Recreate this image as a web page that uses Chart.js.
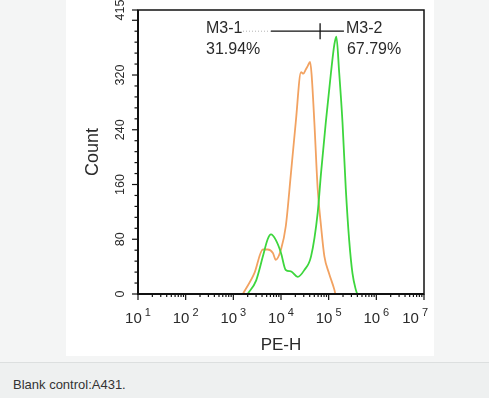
<!DOCTYPE html>
<html>
<head>
<meta charset="utf-8">
<script src="https://cdn.jsdelivr.net/npm/chart.js@4.4.1/dist/chart.umd.min.js"></script>
<style>
  html, body { margin: 0; padding: 0; }
  body {
    width: 489px; height: 398px; background: #f4f5f5;
    position: relative; overflow: hidden;
    font-family: "Liberation Sans", Arial, sans-serif;
  }
  #panel { position: absolute; left: 66px; top: 0; width: 368px; height: 356px; background: #fff; }
  #caption {
    position: absolute; left: 0; top: 362px; width: 489px; height: 36px;
    background: #eef0f0; border-top: 1px solid #dcdfdf;
  }
  #caption span { position: absolute; left: 13px; top: 14px; font-size: 13px; line-height: 15px; color: #333; }
</style>
</head>
<body>
<div id="panel"><canvas id="myChart"></canvas></div>
<div id="caption"><span>Blank control:A431.</span></div>
<script>
// PE-H values and counts
const greenX = [2000, 3020, 4170, 5250, 6170, 7760, 10000, 12600, 16200, 22400, 30900, 42700,
  58900, 69200, 87100, 112000, 132000, 145000, 166000, 195000, 229000, 269000, 316000, 372000, 398000];
const greenCount = [0, 20, 55, 80, 87, 79, 60, 35, 33, 25, 35, 55,
  119, 177, 251, 324, 365, 376, 324, 251, 153, 79, 30, 6, 0];

const orangeX = [1585, 2750, 4170, 5250, 6760, 7760, 10000, 12600, 16200, 20400, 26300, 29500,
  33100, 36300, 40700, 43700, 50100, 58900, 69200, 81300, 102000, 132000, 138000];
const orangeCount = [0, 30, 65, 65, 60, 50, 65, 99, 177, 251, 324, 322,
  328, 333, 339, 322, 251, 153, 99, 55, 30, 6, 0];

const yTickValues = [0, 80, 160, 240, 320, 415];
const xDecades = [1, 2, 3, 4, 5, 6, 7];

// marker M3: start, split, end
const gateNames = ["M3-1", "M3-2"];
const gatePercents = ["31.94%", "67.79%"];
const gateEdges = [6170, 66100, 209000];
const gateLevel = 384;

const ctx = document.getElementById("myChart");
const FONT = '"Liberation Sans", Arial, sans-serif';

function seg(c, x1, y1, x2, y2) {
  c.beginPath();
  c.moveTo(x1, y1);
  c.lineTo(x2, y2);
  c.stroke();
}

const axesPlugin = {
  id: "axesPlugin",
  afterDraw(chart) {
    const c = chart.ctx;
    const a = chart.chartArea;
    const { x, y } = chart.scales;
    c.save();
    c.strokeStyle = "#111";
    c.lineWidth = 1.5;
    c.strokeRect(a.left, a.top, a.right - a.left, a.bottom - a.top);
    c.lineWidth = 2;
    seg(c, a.left, a.top, a.left, a.bottom + 1);
    seg(c, a.left - 1, a.bottom, a.right, a.bottom);

    // tick marks
    c.lineWidth = 1.2;
    x.ticks.forEach((t) => {
      const px = x.getPixelForValue(t.value);
      seg(c, px, a.bottom, px, a.bottom + (t.major ? 6 : 3));
    });
    y.ticks.forEach((t) => {
      const py = y.getPixelForValue(t.value);
      seg(c, a.left, py, a.left - (t.major ? 6 : 3.5), py);
    });

    // x labels: 10 with exponent
    c.fillStyle = "#2a2a2a";
    c.textBaseline = "alphabetic";
    c.textAlign = "left";
    xDecades.forEach((d) => {
      const px = x.getPixelForValue(Math.pow(10, d));
      c.font = "15px " + FONT;
      const wb = c.measureText("10").width;
      c.font = "11px " + FONT;
      const ws = c.measureText(String(d)).width;
      const total = wb + 3 + ws;
      const left = Math.min(px - total / 2, chart.width - total - 6);
      c.font = "15px " + FONT;
      c.fillText("10", left, a.bottom + 29);
      c.font = "11px " + FONT;
      c.fillText(String(d), left + wb + 3, a.bottom + 22);
    });

    // y labels, rotated
    c.font = "12.5px " + FONT;
    c.textAlign = "center";
    c.textBaseline = "middle";
    yTickValues.forEach((v) => {
      const py = y.getPixelForValue(v);
      c.save();
      c.translate(a.left - 17, py);
      c.rotate(-Math.PI / 2);
      c.fillText(String(v), 0, 0);
      c.restore();
    });

    // marker
    const gy = y.getPixelForValue(gateLevel);
    const g0 = x.getPixelForValue(gateEdges[0]);
    const g1 = x.getPixelForValue(gateEdges[1]);
    const g2 = x.getPixelForValue(gateEdges[2]);
    c.strokeStyle = "#111";
    c.lineWidth = 1.3;
    seg(c, g0, gy, g2, gy);
    seg(c, g1, gy - 8, g1, gy + 8);
    c.setLineDash([1, 2]);
    c.strokeStyle = "#b5b5b5";
    c.lineWidth = 1;
    seg(c, g0 - 28, gy, g0, gy);
    c.setLineDash([]);

    c.font = "16px " + FONT;
    c.fillStyle = "#2a2a2a";
    c.textAlign = "left";
    c.textBaseline = "alphabetic";
    c.fillText(gateNames[0], g0 - 65, gy + 2);
    c.fillText(gatePercents[0], g0 - 65, gy + 23);
    c.fillText(gateNames[1], g2 + 2, gy + 2);
    c.fillText(gatePercents[1], g2 + 3, gy + 23);
    c.restore();
  },
};

new Chart(ctx, {
  type: "scatter",
  data: {
    datasets: [
      {
        label: "A431",
        data: greenX.map((v, i) => ({ x: v, y: greenCount[i] })),
        showLine: true,
        borderColor: "#3dd63d",
        borderWidth: 1.8,
        pointRadius: 0,
        cubicInterpolationMode: "monotone",
      },
      {
        label: "Blank control",
        data: orangeX.map((v, i) => ({ x: v, y: orangeCount[i] })),
        showLine: true,
        borderColor: "#f2a261",
        borderWidth: 1.8,
        pointRadius: 0,
        cubicInterpolationMode: "monotone",
      },
    ],
  },
  options: {
    responsive: true,
    maintainAspectRatio: false,
    animation: false,
    layout: { padding: { top: 10, right: 10, left: 0, bottom: 0 } },
    plugins: {
      legend: { display: false },
      tooltip: { enabled: false },
    },
    scales: {
      x: {
        type: "logarithmic",
        min: 10,
        max: 1e7,
        grid: { display: false },
        border: { display: false },
        ticks: { display: false },
        afterBuildTicks: (s) => {
          const t = [];
          xDecades.forEach((d) => {
            for (let m = 1; m <= 9; m++) {
              if (d === 7 && m > 1) break;
              t.push({ value: m * Math.pow(10, d), major: m === 1 });
            }
          });
          s.ticks = t;
        },
        afterFit: (s) => { s.height = 62; },
        title: {
          display: true,
          text: "PE-H",
          color: "#2a2a2a",
          font: { size: 17, family: FONT },
          padding: { top: 0, bottom: 0 },
        },
      },
      y: {
        min: 0,
        max: 415,
        grid: { display: false },
        border: { display: false },
        ticks: { display: false },
        afterBuildTicks: (s) => {
          const t = [];
          for (let v = 0; v <= 400; v += 16) t.push({ value: v, major: v % 80 === 0 });
          t.push({ value: 415, major: true });
          s.ticks = t;
        },
        afterFit: (s) => { s.width = 72; },
        title: {
          display: true,
          text: "Count",
          color: "#2a2a2a",
          font: { size: 18, family: FONT },
          padding: { top: 16, bottom: 0 },
        },
      },
    },
  },
  plugins: [axesPlugin],
});
</script>
</body>
</html>
